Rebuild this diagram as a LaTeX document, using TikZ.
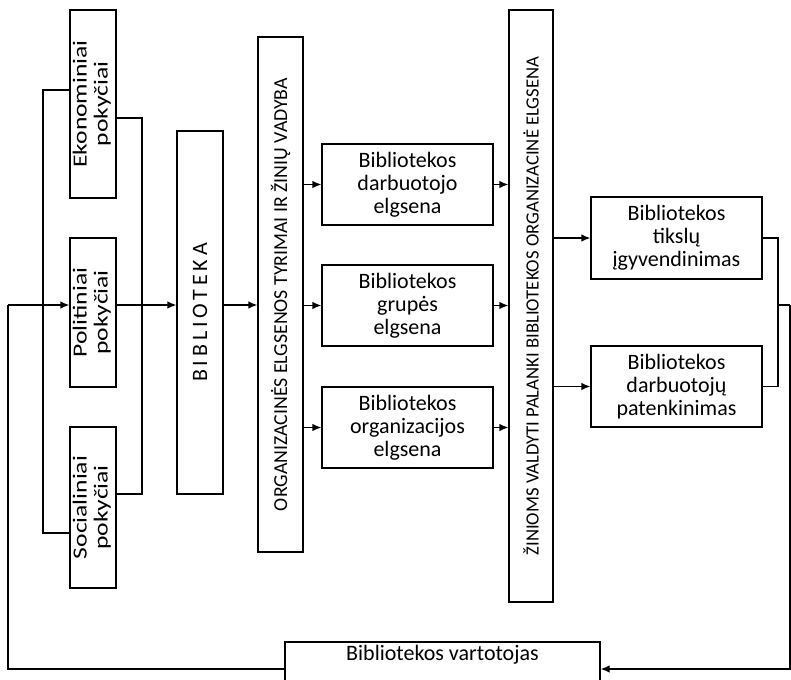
\documentclass[tikz,border=0pt]{standalone}
\usepackage{fontspec}
\setmainfont{Carlito}
\usetikzlibrary{arrows.meta}
\newcommand{\ls}{\hspace{3.8pt}}
\newcommand{\poklbl}[1]{\rotatebox{90}{\scalebox{1.28}[1]{\fontsize{20}{21}\selectfont\begin{tabular}{@{}c@{}}#1\\pokyčiai\end{tabular}}}}
\begin{document}
\begin{tikzpicture}[x=1pt,y=-1pt,
  box/.style={draw, line width=1.3pt, inner sep=0pt, align=center, font=\fontsize{22}{23}\selectfont},
  ln/.style={line width=1.3pt},
  arr/.style={-{Latex[length=9pt,width=7.5pt]}}
]
\useasboundingbox (0,0) rectangle (791,679);
\clip (0,0) rectangle (791,679);

% left column
\node[box, minimum width=46pt, minimum height=188pt] (eko) at (93,104) {\poklbl{Ekonominiai}};
\node[box, minimum width=46pt, minimum height=149pt] (pol) at (93,312.5) {\poklbl{Politiniai}};
\node[box, minimum width=46pt, minimum height=161pt] (soc) at (93,507.5) {\poklbl{Socialiniai}};

\node[box, minimum width=46pt, minimum height=363pt] (bib) at (200,312.5)
  {\rotatebox{90}{\fontsize{22}{24}\selectfont B\ls I\ls B\ls L\ls I\ls O\ls T\ls E\ls K\ls A}};
\node[box, minimum width=45pt, minimum height=515pt] (org) at (280.5,294.5)
  {\rotatebox{90}{\fontsize{19.8}{22}\selectfont ORGANIZACINĖS ELGSENOS TYRIMAI IR ŽINIŲ VADYBA}};

% middle boxes
\node[box, minimum width=171pt, minimum height=81pt] (m1) at (407.5,184.5)
  {Bibliotekos\\darbuotojo\\elgsena};
\node[box, minimum width=171pt, minimum height=81pt] (m2) at (407.5,305.5)
  {Bibliotekos\\grupės\\elgsena};
\node[box, minimum width=171pt, minimum height=81pt] (m3) at (407.5,427.5)
  {Bibliotekos\\organizacijos\\elgsena};

\node[box, minimum width=44pt, minimum height=592pt] (zin) at (531,306)
  {\rotatebox{90}{\fontsize{18.7}{22}\selectfont ŽINIOMS VALDYTI PALANKI BIBLIOTEKOS ORGANIZACINĖ ELGSENA}};

% right boxes
\node[box, minimum width=171pt, minimum height=82pt] (r1) at (676.5,238)
  {Bibliotekos\\tikslų\\įgyvendinimas};
\node[box, minimum width=171pt, minimum height=81pt] (r2) at (676.5,386.5)
  {Bibliotekos\\darbuotojų\\patenkinimas};

% bottom box
\node[box, minimum width=315pt, minimum height=54pt] (vart) at (442.5,669) {};
\node[font=\fontsize{22}{23}\selectfont, inner sep=0pt] (vartT) at (442.5,655) {Bibliotekos vartotojas};

% coordinates
\coordinate (fb) at (8,305);
\coordinate (lb1) at (43,90);
\coordinate (lb2) at (43,533);
\coordinate (rb1) at (142,118);
\coordinate (rb2) at (142,494);
\coordinate (rbx) at (778,305);
\coordinate (rc) at (790,305);

% left brackets
\draw[ln] (eko.west |- lb1) -- (lb1) -- (lb2) -- (soc.west |- lb2);
\draw[ln] (eko.east |- rb1) -- (rb1) -- (rb2) -- (soc.east |- rb2);

% main flow
\draw[ln,arr] (fb) -- (pol.west |- fb);
\draw[ln,arr] (pol.east |- fb) -- (bib.west |- fb);
\draw[ln,arr] (bib.east |- fb) -- (org.west |- fb);

\draw[ln,arr] (org.east |- m1.west) -- (m1.west);
\draw[ln,arr] (org.east |- m2.west) -- (m2.west);
\draw[ln,arr] (org.east |- m3.west) -- (m3.west);
\draw[ln,arr] (m1.east) -- (zin.west |- m1.east);
\draw[ln,arr] (m2.east) -- (zin.west |- m2.east);
\draw[ln,arr] (m3.east) -- (zin.west |- m3.east);

\draw[ln,arr] (zin.east |- r1.west) -- (r1.west);
\draw[ln,arr] (zin.east |- r2.west) -- (r2.west);

% right bracket and feedback
\draw[ln] (r1.east) -| (rbx) |- (r2.east);
\draw[ln] (rbx) -- (rc);
\draw[ln,arr] (rc) |- (vart.east);
\draw[ln] (vart.west) -| (fb);
\end{tikzpicture}
\end{document}
